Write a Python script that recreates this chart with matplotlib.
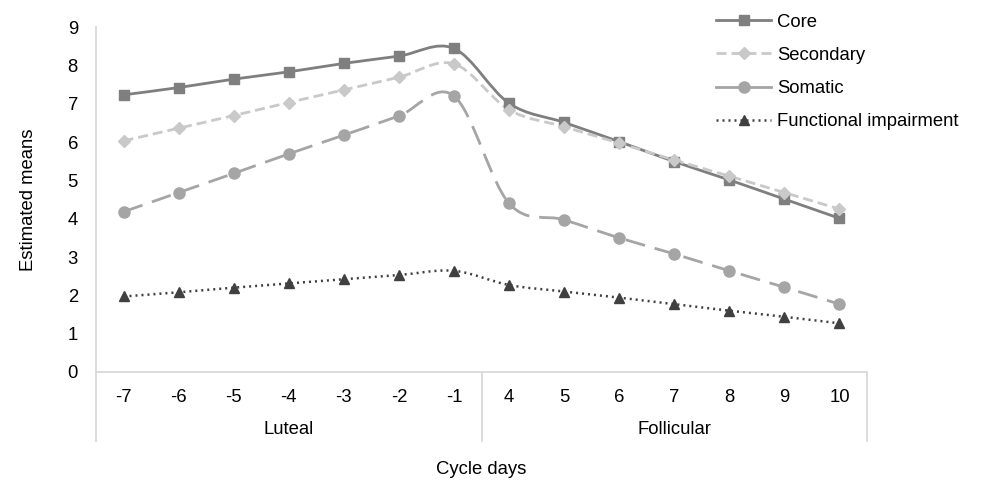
import numpy as np
import matplotlib
matplotlib.use("Agg")
import matplotlib.pyplot as plt
from matplotlib.path import Path
from matplotlib.patches import PathPatch
from matplotlib.lines import Line2D

plt.rcParams['font.family'] = ['Liberation Sans', 'DejaVu Sans']

days = ["-7", "-6", "-5", "-4", "-3", "-2", "-1", "4", "5", "6", "7", "8", "9", "10"]
phases = ["Luteal", "Follicular"]
phase_sizes = [7, 7]

core = [7.23, 7.42, 7.64, 7.83, 8.05, 8.24, 8.44, 7.01, 6.51, 6.01, 5.49, 5.01, 4.51, 4.01]
secondary = [6.03, 6.36, 6.69, 7.03, 7.36, 7.69, 8.04, 6.84, 6.40, 5.97, 5.53, 5.11, 4.68, 4.25]
somatic = [4.18, 4.68, 5.18, 5.69, 6.18, 6.68, 7.20, 4.40, 3.97, 3.50, 3.08, 2.64, 2.21, 1.77]
functional = [1.97, 2.08, 2.20, 2.31, 2.42, 2.53, 2.64, 2.27, 2.10, 1.94, 1.77, 1.60, 1.44, 1.27]

FS = 13.3

series = [
    ("Core", core, dict(color="#7f7f7f", dash=None, lw=2.0, marker="s", ms=7.5)),
    ("Secondary", secondary, dict(color="#c9c9c9", dash=(3.6, 1.8), lw=2.0, marker="D", ms=6.0)),
    ("Somatic", somatic, dict(color="#a5a5a5", dash=(7.2, 3.6), lw=2.0, marker="o", ms=8.0)),
    ("Functional impairment", functional, dict(color="#404040", dash=(0.8, 1.6), lw=1.8, marker="^", ms=7.0)),
]
legend_dashes = {"Core": None, "Secondary": (3.6, 1.8), "Somatic": None, "Functional impairment": (0.8, 1.6)}

fig = plt.figure(figsize=(9.86, 4.82), dpi=100)
ax = fig.add_axes([96/986, 1-372/482, (867-96)/986, (372-27)/482])

x = np.arange(len(days))


def smooth_path(xs, ys):
    pts = np.column_stack([xs, ys])
    n = len(pts)
    verts = [pts[0]]
    codes = [Path.MOVETO]
    for i in range(n - 1):
        p0 = pts[i - 1] if i > 0 else pts[i]
        p1 = pts[i]
        p2 = pts[i + 1]
        p3 = pts[i + 2] if i + 2 < n else pts[i + 1]
        c1 = p1 + (p2 - p0) / 6.0
        c2 = p2 - (p3 - p1) / 6.0
        verts += [c1, c2, p2]
        codes += [Path.CURVE4] * 3
    return Path(verts, codes)


handles = []
for name, vals, st in series:
    patch = PathPatch(smooth_path(x, vals), fill=False, edgecolor=st["color"], lw=st["lw"], zorder=2)
    if st["dash"] is not None:
        patch.set_linestyle((0, st["dash"]))
    ax.add_patch(patch)
    ax.plot(x, vals, ls="none", marker=st["marker"], ms=st["ms"], color=st["color"],
            markeredgecolor=st["color"], zorder=3)
    h = Line2D([0], [0], color=st["color"], lw=st["lw"], marker=st["marker"], ms=st["ms"], ls="-")
    if legend_dashes[name] is not None:
        h.set_dashes(legend_dashes[name])
    handles.append(h)

ax.set_xlim(-0.5, len(days) - 0.5)
ax.set_ylim(0, 9)
ax.set_yticks(range(0, 10))
ax.tick_params(axis="y", length=0, labelsize=FS, pad=13)
ax.tick_params(axis="x", length=0, labelsize=FS, pad=12)
ax.set_xticks(x)
ax.set_xticklabels(days)

for s in ["top", "right"]:
    ax.spines[s].set_visible(False)
ax.spines["left"].set_visible(False)
ax.spines["bottom"].set_color("#d9d9d9")
ax.spines["bottom"].set_linewidth(1.3)

# vertical axis / group separators
tr = ax.get_xaxis_transform()
sep_bottom = -(441 - 372) / 345
bounds = [-0.5]
acc = -0.5
for s in phase_sizes:
    acc += s
    bounds.append(acc)
for i, b in enumerate(bounds):
    top = 1.0 if i == 0 else 0.0
    ax.plot([b, b], [sep_bottom, top], transform=tr, color="#d9d9d9", lw=1.3, clip_on=False)

start = -0.5
for name, s in zip(phases, phase_sizes):
    ax.text(start + s / 2, -(430 - 372) / 345, name, transform=tr, ha="center", va="center", fontsize=FS)
    start += s

ax.set_ylabel("Estimated means", fontsize=FS, labelpad=22)
fig.text((96 + 867) / 2 / 986, 1 - 470 / 482, "Cycle days", ha="center", va="center", fontsize=FS)

fig.legend(handles, [s[0] for s in series], loc="upper left", bbox_to_anchor=(702/986, 1.0),
           frameon=False, fontsize=FS, handlelength=3.0, labelspacing=0.87, handletextpad=0.3,
           borderpad=0.25)

fig.savefig("out.png", dpi=100)
